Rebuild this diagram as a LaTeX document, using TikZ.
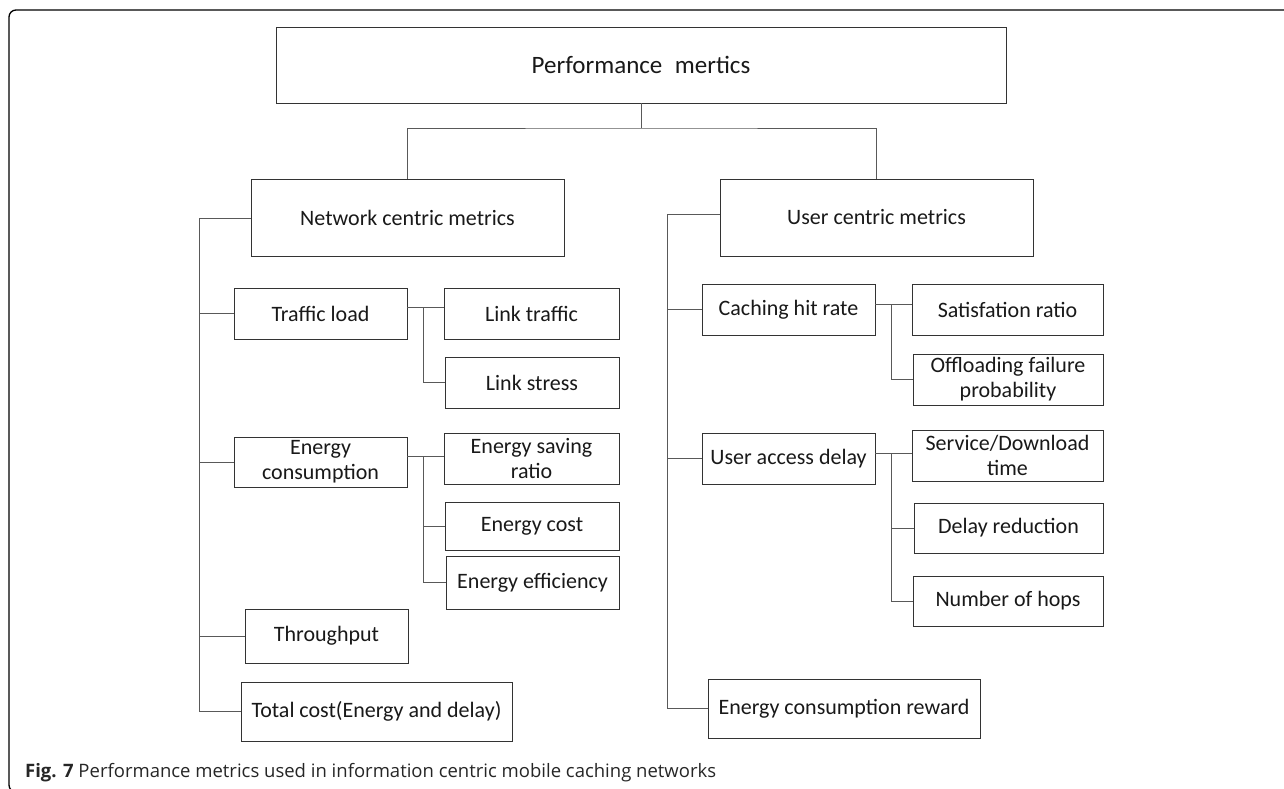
\documentclass[tikz,border=0pt]{standalone}
\usepackage{fontspec}
\setmainfont{Carlito}
\newfontfamily\capfont{Open Sans}
\begin{document}
\begin{tikzpicture}[x=1pt,y=-1pt,
  box/.style={draw=black!80, line width=0.9pt, fill=white, inner sep=2pt,
    align=center, text=black!90, font=\fontsize{22}{25}\selectfont},
  link/.style={draw=black!65, line width=0.9pt}]
\useasboundingbox (0,0) rectangle (1284,789);
\clip (0,0) rectangle (1284,789);
% outer frame
\draw[line width=1.3pt, rounded corners=7pt] (1300,10) -- (9,10) -- (9,792) -- (1300,792);

% root and the two families
\node[box, minimum width=730pt, minimum height=76pt, font=\fontsize{25}{28}\selectfont]
  (root) at (641,65) {Performance\hspace{0.5em}mertics};
\node[box, minimum width=313pt, minimum height=77pt] (net) at (407.5,217.5) {Network centric metrics};
\node[box, minimum width=313pt, minimum height=77pt] (usr) at (876.5,217.5) {User centric metrics};

% network centric branch
\node[box, minimum width=173pt, minimum height=51pt] (tl) at (320.5,313.5) {Traffic load};
\node[box, minimum width=175pt, minimum height=51pt] (lt) at (531.5,313.5) {Link traffic};
\node[box, minimum width=174pt, minimum height=51pt] (ls) at (532,382.5) {Link stress};
\node[box, minimum width=173pt, minimum height=50pt] (ec) at (320.5,462) {Energy\\consumption};
\node[box, minimum width=175pt, minimum height=51pt] (esr) at (531.5,458.5) {Energy saving\\ratio};
\node[box, minimum width=174pt, minimum height=48pt] (eco) at (532,526) {Energy cost};
\node[box, minimum width=173pt, minimum height=53pt] (eef) at (532.5,582.5) {Energy efficiency};
\node[box, minimum width=163pt, minimum height=54pt] (thr) at (326.5,636) {Throughput};
\node[box, minimum width=271pt, minimum height=59pt] (tc) at (376.5,711.5) {Total cost(Energy and delay)};

% user centric branch
\node[box, minimum width=173pt, minimum height=51pt] (chr) at (788.5,309.5) {Caching hit rate};
\node[box, minimum width=191pt, minimum height=51pt] (sr) at (1007.5,309.5) {Satisfation ratio};
\node[box, minimum width=190pt, minimum height=51pt] (ofp) at (1008,379.5) {Offloading failure\\probability};
\node[box, minimum width=173pt, minimum height=51pt] (uad) at (788.5,458.5) {User access delay};
\node[box, minimum width=191pt, minimum height=51pt] (sdt) at (1007.5,455.5) {Service/Download\\time};
\node[box, minimum width=189pt, minimum height=50pt] (dr) at (1008.5,528) {Delay reduction};
\node[box, minimum width=190pt, minimum height=50pt] (nh) at (1008,601) {Number of hops};
\node[box, minimum width=272pt, minimum height=59pt] (ecr) at (844,708.5) {Energy consumption reward};

% junction points of the tree
\coordinate (rj) at (641,128);
\coordinate (nt) at (199,218);
\coordinate (ut) at (667,214);
\coordinate (tj) at (423,307);
\coordinate (ej) at (423,456);
\coordinate (cj) at (891,304);
\coordinate (dj) at (891,453);

% root to families
\draw[link] (root.south) -- (rj);
\draw[link] (net.north) |- (rj) -| (usr.north);

% network trunk
\draw[link] (net.west |- nt) -- (nt) |- (tc.west);
\draw[link] (nt |- tl.west) -- (tl.west);
\draw[link] (nt |- ec.west) -- (ec.west);
\draw[link] (nt |- thr.west) -- (thr.west);
\draw[link] (tl.east |- tj) -- (lt.west |- tj);
\draw[link] (tj) |- (ls.west);
\draw[link] (ec.east |- ej) -- (esr.west |- ej);
\draw[link] (ej) |- (eef.west);
\draw[link] (ej |- eco.west) -- (eco.west);

% user trunk
\draw[link] (usr.west |- ut) -- (ut) |- (ecr.west);
\draw[link] (ut |- chr.west) -- (chr.west);
\draw[link] (ut |- uad.west) -- (uad.west);
\draw[link] (chr.east |- cj) -- (sr.west |- cj);
\draw[link] (cj) |- (ofp.west);
\draw[link] (uad.east |- dj) -- (sdt.west |- dj);
\draw[link] (dj) |- (nh.west);
\draw[link] (dj |- dr.west) -- (dr.west);

% caption
\node[anchor=west, inner sep=0pt, font=\capfont\fontsize{18.5}{21}\selectfont, text=black!85] (cap) at (25,773)
  {\textbf{Fig. 7} Performance metrics used in information centric mobile caching networks};
\end{tikzpicture}
\end{document}
